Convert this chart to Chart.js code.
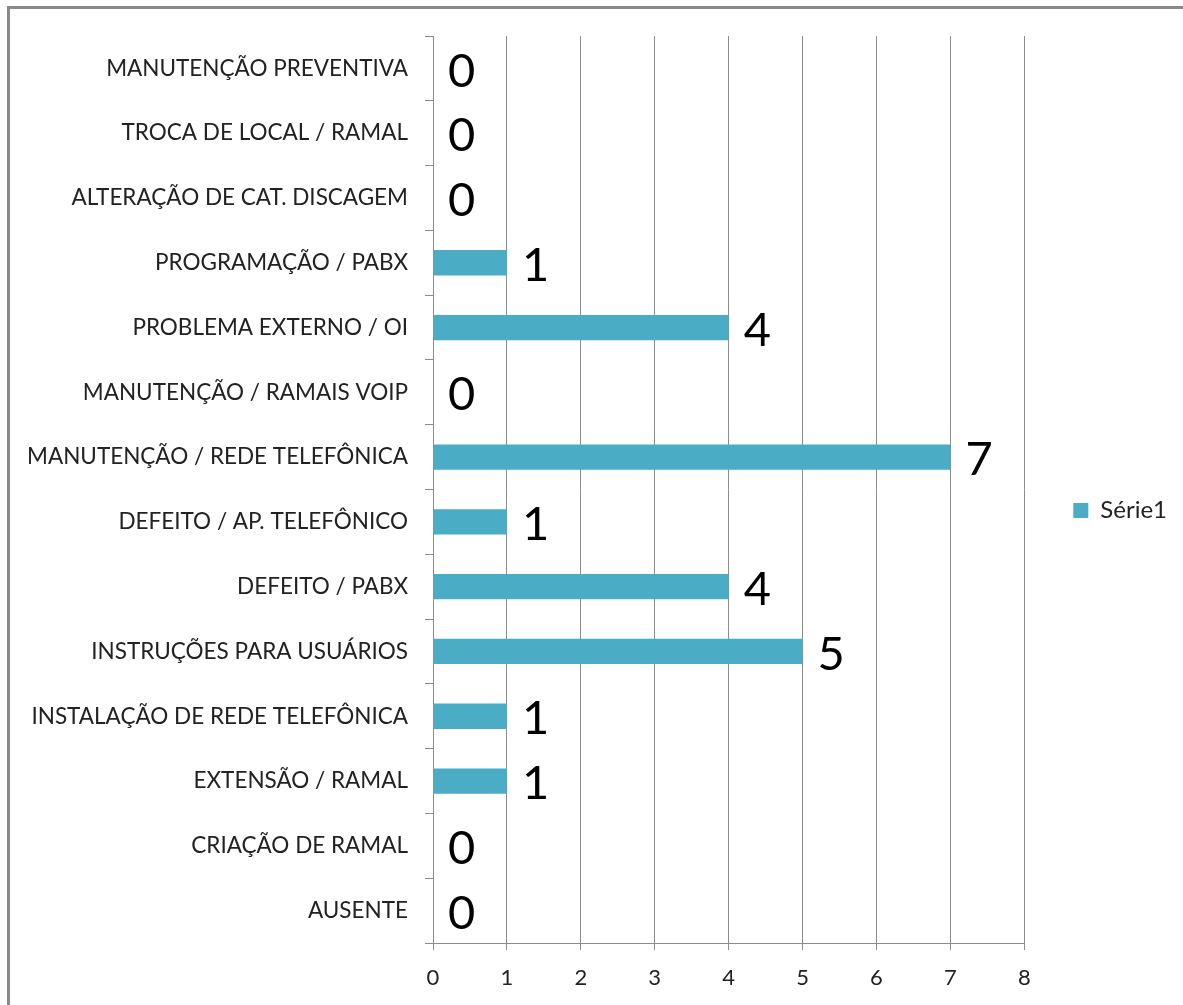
<!DOCTYPE html>
<html>
<head>
<meta charset="utf-8">
<script src="https://cdn.jsdelivr.net/npm/chart.js@4"></script>
<style>
  html, body { margin: 0; padding: 0; background: #fff; overflow: hidden; }
  #frame {
    position: absolute; left: 7px; top: 6px;
    width: 1220px; height: 1040px;
    border: 3px solid #8a8a8a;
    box-sizing: border-box;
  }
  #wrap { position: absolute; left: 0; top: 0; width: 1183px; height: 1005px; }
</style>
</head>
<body>
<div id="frame"></div>
<div id="wrap"><canvas id="myChart" width="1183" height="1005"></canvas></div>
<script>
// categories, top to bottom as in the picture
const categories = [
  "MANUTENÇÃO PREVENTIVA",
  "TROCA DE LOCAL / RAMAL",
  "ALTERAÇÃO DE CAT. DISCAGEM",
  "PROGRAMAÇÃO / PABX",
  "PROBLEMA EXTERNO / OI",
  "MANUTENÇÃO / RAMAIS VOIP",
  "MANUTENÇÃO / REDE TELEFÔNICA",
  "DEFEITO / AP. TELEFÔNICO",
  "DEFEITO / PABX",
  "INSTRUÇÕES PARA USUÁRIOS",
  "INSTALAÇÃO DE REDE TELEFÔNICA",
  "EXTENSÃO / RAMAL",
  "CRIAÇÃO DE RAMAL",
  "AUSENTE"
];
const serie1 = [0, 0, 0, 1, 4, 0, 7, 1, 4, 5, 1, 1, 0, 0];
const xTicks = [0, 1, 2, 3, 4, 5, 6, 7, 8];

const FONT = "Lato, 'Open Sans', sans-serif";

// draws the big value labels next to each bar
const valueLabels = {
  id: "valueLabels",
  afterDatasetsDraw(chart) {
    const ctx = chart.ctx;
    const meta = chart.getDatasetMeta(0);
    ctx.save();
    ctx.font = "47px " + FONT;
    ctx.fillStyle = "#000";
    ctx.textAlign = "left";
    ctx.textBaseline = "middle";
    meta.data.forEach((bar, i) => {
      ctx.fillText(String(serie1[i]), bar.x + 15, bar.y + 3);
    });
    ctx.restore();
  }
};

const ctx = document.getElementById("myChart").getContext("2d");
new Chart(ctx, {
  type: "bar",
  data: {
    labels: categories,
    datasets: [{
      label: "Série1",
      data: serie1,
      backgroundColor: "#4BACC6",
      borderWidth: 0,
      barPercentage: 0.39,
      categoryPercentage: 1
    }]
  },
  options: {
    indexAxis: "y",
    responsive: false,
    animation: false,
    layout: { padding: { top: 36, left: 0, right: 6, bottom: 20 } },
    scales: {
      x: {
        min: 0,
        max: 8,
        afterFit: (scale) => { scale.height = 42; },
        afterBuildTicks: (scale) => { scale.ticks = xTicks.map(v => ({ value: v })); },
        grid: { color: "#8c8c8c", lineWidth: 1, tickLength: 7, drawTicks: true },
        border: { color: "#8c8c8c" },
        ticks: { color: "#222", font: { family: FONT, size: 22 }, padding: 15 }
      },
      y: {
        afterFit: (scale) => { scale.width = 433; },
        grid: { drawOnChartArea: false, color: "#8c8c8c", tickLength: 8, offset: true },
        border: { color: "#8c8c8c" },
        ticks: { color: "#222", font: { family: FONT, size: 22.5 }, padding: 17, autoSkip: false }
      }
    },
    plugins: {
      legend: {
        position: "right",
        labels: {
          boxWidth: 15,
          boxHeight: 15,
          color: "#222",
          font: { family: FONT, size: 24 },
          padding: 49
        }
      },
      tooltip: { enabled: false }
    }
  },
  plugins: [valueLabels]
});
</script>
</body>
</html>
